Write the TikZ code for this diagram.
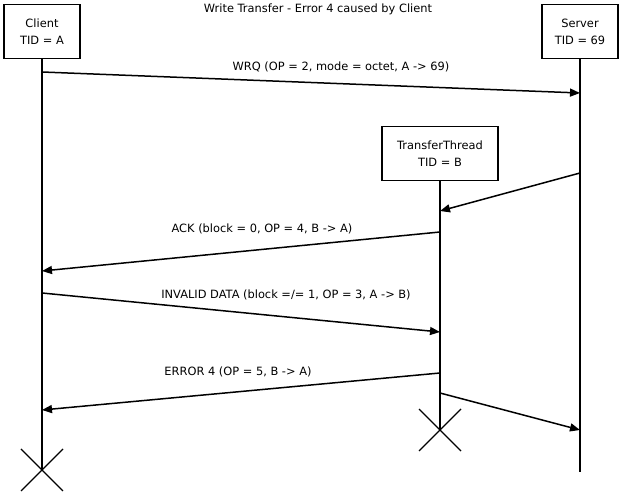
\documentclass[tikz,border=0pt]{standalone}
\usepackage{fontspec}
\setmainfont{DejaVu Sans}
\usetikzlibrary{arrows.meta,positioning}

\begin{document}
\begin{tikzpicture}[x=1pt,y=-1pt,font=\fontsize{11.4}{17}\selectfont,
	actor/.style={draw, line width=1.8pt, align=center, minimum height=54pt, inner sep=0pt},
	life/.style={line width=1.6pt},
	msg/.style={line width=1.5pt, -{Triangle[length=10pt,width=8pt]}},
	cross/.style={line width=1.3pt}]
	\useasboundingbox (0,0) rectangle (622,494);
	\node (title) at (318,9) {Write Transfer - Error 4 caused by Client};
	% actors
	\node[actor, minimum width=76pt] (client) at (42,31.5) {Client\\TID = A};
	\node[actor, minimum width=76pt] (server) at (580,31.5) {Server\\TID = 69};
	\node[actor, minimum width=116pt] (thread) at (440,153.5) {TransferThread\\TID = B};
	\coordinate (clientEnd) at (42,470);
	\coordinate (serverEnd) at (580,472);
	\coordinate (threadEnd) at (440,430);
	\draw[life] (client) -- (clientEnd);
	\draw[life] (server) -- (serverEnd);
	\draw[life] (thread) -- (threadEnd);
	\draw[cross] (clientEnd) +(-21,-21) -- +(21,21) +(-21,21) -- +(21,-21);
	\draw[cross] (threadEnd) +(-21,-21) -- +(21,21) +(-21,21) -- +(21,-21);
	% messages
	\coordinate (c1) at (42,72);
	\coordinate (s1) at (580,93);
	\coordinate (s2) at (580,173);
	\coordinate (t2) at (440,211);
	\coordinate (t3) at (440,232);
	\coordinate (c3) at (42,271);
	\coordinate (c4) at (42,293);
	\coordinate (t4) at (440,332);
	\coordinate (t5) at (440,373);
	\coordinate (c5) at (42,410);
	\coordinate (t6) at (440,393);
	\coordinate (s6) at (580,430);
	\draw[msg] (c1) -- (s1);
	\draw[msg] (s2) -- (t2);
	\draw[msg] (t3) -- (c3);
	\draw[msg] (c4) -- (t4);
	\draw[msg] (t5) -- (c5);
	\draw[msg] (t6) -- (s6);
	\node (wrq) at (341,67) {WRQ (OP = 2, mode = octet, A -> 69)};
	\node (ack) at (262,229) {ACK (block = 0, OP = 4, B -> A)};
	\node (data) at (286,295) {INVALID DATA (block =/= 1, OP = 3, A -> B)};
	\node (error) at (238,372) {ERROR 4 (OP = 5, B -> A)};
\end{tikzpicture}
\end{document}
